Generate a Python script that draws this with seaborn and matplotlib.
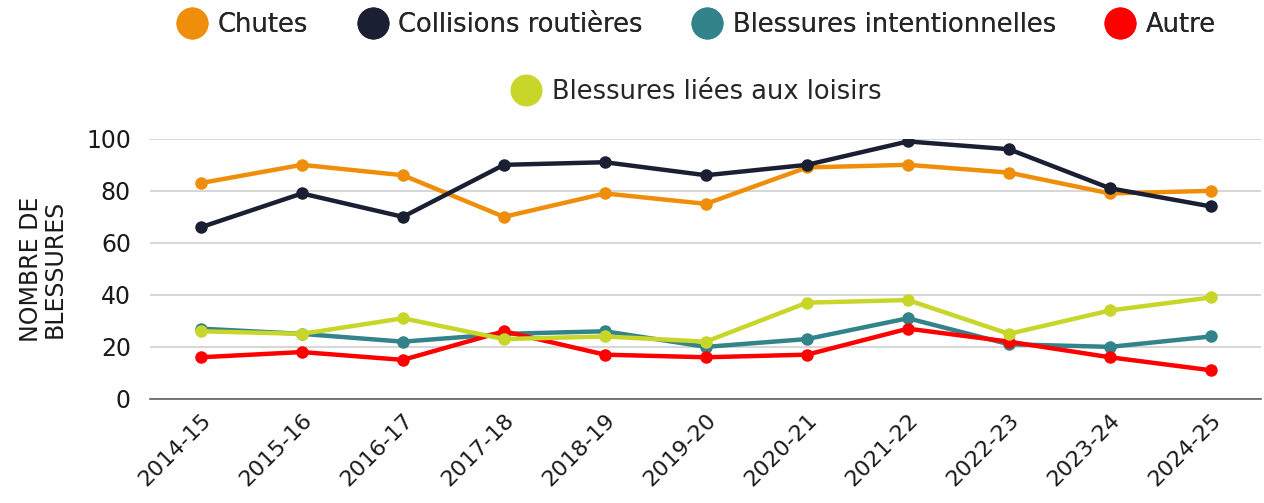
import pandas as pd
import seaborn as sns
import matplotlib.pyplot as plt
from matplotlib.lines import Line2D

# data
years = ['2014-15', '2015-16', '2016-17', '2017-18', '2018-19', '2019-20',
         '2020-21', '2021-22', '2022-23', '2023-24', '2024-25']
chutes = [83, 90, 86, 70, 79, 75, 89, 90, 87, 79, 80]
collisions = [66, 79, 70, 90, 91, 86, 90, 99, 96, 81, 74]
intentionnelles = [27, 25, 22, 25, 26, 20, 23, 31, 21, 20, 24]
autre = [16, 18, 15, 26, 17, 16, 17, 27, 22, 16, 11]
loisirs = [26, 25, 31, 23, 24, 22, 37, 38, 25, 34, 39]

series = ['Chutes', 'Collisions routières', 'Blessures intentionnelles',
          'Autre', 'Blessures liées aux loisirs']
colors = ['#EE8E0B', '#1B1F33', '#33838A', '#FF0000', '#C8D62A']

df = pd.DataFrame({'annee': years * 5,
                   'serie': sum([[s] * len(years) for s in series], []),
                   'valeur': chutes + collisions + intentionnelles + autre + loisirs})

sns.set_style('white')
plt.rcParams['font.family'] = ['DejaVu Sans']

fig = plt.figure(figsize=(12.64, 5.03), dpi=100)
ax = fig.add_axes([0.119, 0.207, 0.879, 0.517])

sns.lineplot(data=df, x='annee', y='valeur', hue='serie', hue_order=series,
             palette=colors, marker='o', markersize=9, markeredgewidth=0,
             linewidth=3.2, sort=False, ax=ax, legend=False)

ax.set_ylim(0, 100)
ax.set_xlim(-0.5, len(years) - 0.5)
ax.set_yticks([0, 20, 40, 60, 80, 100])
ax.yaxis.grid(True, color='#D0D0D0', linewidth=1.2)
ax.set_axisbelow(True)
for s in ['top', 'right', 'left']:
    ax.spines[s].set_visible(False)
ax.spines['bottom'].set_color('#606060')
ax.spines['bottom'].set_linewidth(1.2)
ax.tick_params(axis='y', labelsize=17, length=0, pad=14, colors='#1a1a1a')
ax.tick_params(axis='x', labelsize=16, length=0, pad=8, colors='#1a1a1a')
plt.setp(ax.get_xticklabels(), rotation=45, ha='right', rotation_mode='anchor')
ax.set_xlabel('')
ax.set_ylabel('NOMBRE DE\nBLESSURES', fontsize=17, color='#1a1a1a', labelpad=14,
              linespacing=1.0)

handles = [Line2D([], [], marker='o', linestyle='', markersize=22, color=c)
           for c in colors]
leg1 = fig.legend(handles[:4], series[:4], loc='center', ncol=4,
                  bbox_to_anchor=(0.552, 0.95), frameon=False, fontsize=18.5,
                  handletextpad=0.5, columnspacing=2.0, handlelength=1.0)
fig.legend(handles[4:], series[4:], loc='center', bbox_to_anchor=(0.552, 0.817),
           frameon=False, fontsize=18.5, handletextpad=0.5, handlelength=1.0)
fig.add_artist(leg1)

fig.savefig('out.png', dpi=100)
